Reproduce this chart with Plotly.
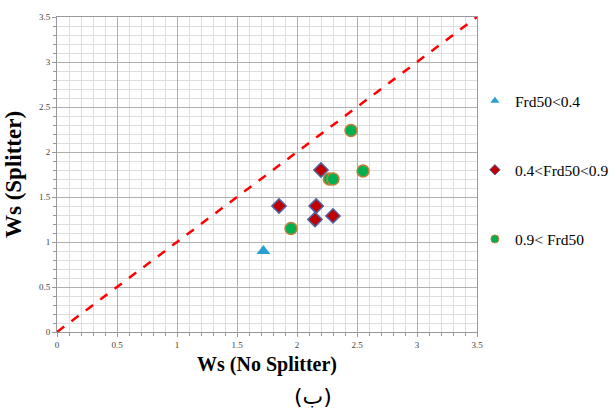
import plotly.graph_objects as go

# Data
tri_x = [1.72]
tri_y = [0.90]
dia_x = [2.20, 1.85, 2.16, 2.15, 2.30]
dia_y = [1.80, 1.40, 1.40, 1.25, 1.29]
cir_x = [2.45, 2.55, 2.27, 2.30, 1.95]
cir_y = [2.24, 1.79, 1.70, 1.70, 1.15]
line_x = [0, 3.5]
line_y = [0, 3.5]
tick_vals = [0, 0.5, 1, 1.5, 2, 2.5, 3, 3.5]
tick_text = ["0", "0.5", "1", "1.5", "2", "2.5", "3", "3.5"]
series_names = ["Frd50<0.4", "0.4<Frd50<0.9", "0.9< Frd50"]

tri_style = dict(symbol="triangle-up", color="#2A9FD6", line=dict(width=0))
dia_style = dict(symbol="diamond", color="#C00000", line=dict(width=1.5, color="#5060A0"))
cir_style = dict(symbol="circle", color="#00B050", line=dict(width=1.5, color="#C0803A"))

fig = go.Figure()
fig.add_trace(go.Scatter(x=line_x, y=line_y, mode="lines", showlegend=False,
                         line=dict(color="#FF0000", width=2.5, dash="dash")))
fig.add_trace(go.Scatter(x=tri_x, y=tri_y, mode="markers", showlegend=False,
                         marker=dict(size=12, **tri_style)))
fig.add_trace(go.Scatter(x=dia_x, y=dia_y, mode="markers", showlegend=False,
                         marker=dict(size=11, **dia_style)))
fig.add_trace(go.Scatter(x=cir_x, y=cir_y, mode="markers", showlegend=False,
                         marker=dict(size=12, **cir_style)))
# legend entries with small markers
for nm, st, grp in zip(series_names, [tri_style, dia_style, cir_style], ["a", "b", "c"]):
    st2 = dict(st)
    st2["line"] = dict(st["line"], width=min(st["line"].get("width", 0), 1))
    fig.add_trace(go.Scatter(x=[None], y=[None], mode="markers", name=nm, legendgroup=grp,
                             marker=dict(size=8, **st2)))

axis_common = dict(
    range=[0, 3.5], tickvals=tick_vals, ticktext=tick_text,
    showgrid=True, gridcolor="#B0B0B0", gridwidth=1,
    minor=dict(dtick=0.1, showgrid=True, gridcolor="#DDDDDD", gridwidth=1,
               ticks="outside", ticklen=3, tickcolor="#999999"),
    showline=True, linecolor="#999999", linewidth=1, mirror=True,
    zeroline=False, ticks="outside", ticklen=4, tickcolor="#999999",
    tickfont=dict(family="Liberation Serif", size=9, color="#444444"),
)

fig.update_xaxes(**axis_common,
                 title=dict(text="<b>Ws (No Splitter)</b>",
                            font=dict(family="Liberation Serif", size=20, color="#000000"),
                            standoff=8))
fig.update_yaxes(**axis_common,
                 title=dict(text="<b>Ws (Splitter)</b>",
                            font=dict(family="Liberation Serif", size=23, color="#000000"),
                            standoff=10))

fig.add_annotation(text="(ب)", xref="paper", yref="paper", x=0.61, y=-0.205,
                   xanchor="center", yanchor="middle", showarrow=False,
                   font=dict(family="DejaVu Sans", size=22, color="#000000"))

fig.update_layout(
    width=616, height=413,
    margin=dict(l=57, r=139, t=17, b=81, autoexpand=False),
    plot_bgcolor="#FFFFFF", paper_bgcolor="#FFFFFF",
    legend=dict(x=0.995, y=0.787, xanchor="left", yanchor="top",
                font=dict(family="Liberation Serif", size=15.5, color="#000000"),
                tracegroupgap=46, itemwidth=30, bgcolor="rgba(0,0,0,0)"),
)

fig.write_html("out.html")
